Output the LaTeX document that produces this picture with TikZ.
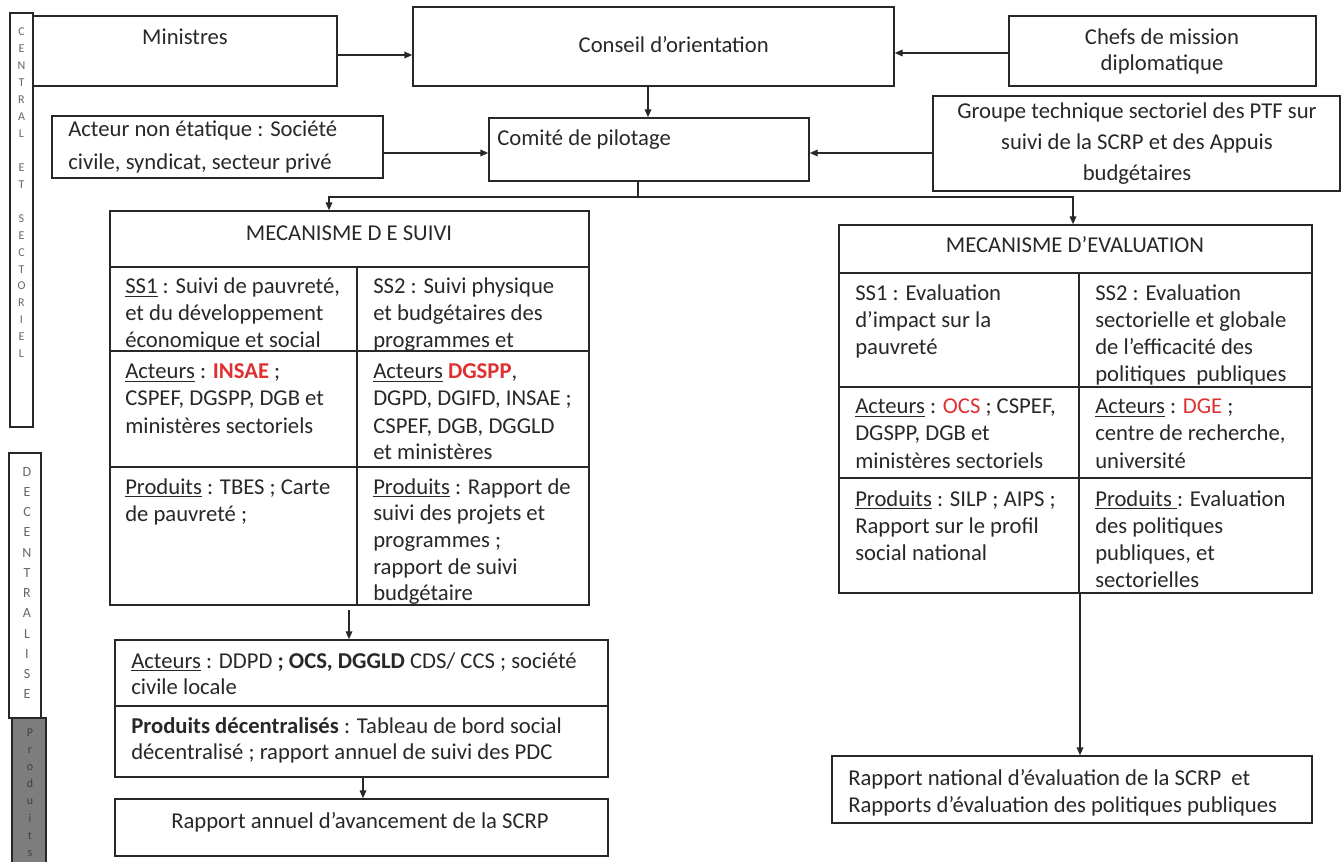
\documentclass[tikz,border=0pt]{standalone}
\usepackage{fontspec}
\setmainfont{Carlito}
\usetikzlibrary{arrows.meta,fit,calc}
\definecolor{redt}{RGB}{222,50,50}
\definecolor{ink}{RGB}{40,40,40}
\definecolor{barg}{RGB}{125,125,125}
\newcommand{\mylines}[1]{\parbox[t]{520pt}{#1}}
\newcommand{\myclines}[2]{\parbox[t]{#1}{\centering #2}}
\begin{document}
\begin{tikzpicture}[x=0.75pt,y=-0.75pt,
  box/.style={draw=ink, line width=1.1pt, inner sep=0pt},
  line/.style={draw=ink, line width=1.1pt},
  arr/.style={draw=ink, line width=1.1pt, -{Triangle[length=6pt,width=5pt]}},
  txt/.style={anchor=base west, inner sep=0pt, text=ink, font=\fontsize{17}{20.25}\selectfont},
  vlet/.style={anchor=base, inner sep=0pt, text=black!60}]
\useasboundingbox (0,0) rectangle (1341,862);
\fill[white] (0,0) rectangle (1341,862);

% ---- left bars
\node[box, fit={(10,13) (33,427)}] (cbar) {};
\node[vlet, font=\fontsize{9}{12.7}\selectfont] (cbarT) at (21.5,36) {\myclines{20pt}{C\\E\\N\\T\\R\\A\\L\\\mbox{}\\E\\T\\\mbox{}\\S\\E\\C\\T\\O\\R\\I\\E\\L}};
\node[box, fit={(9,453) (41,718)}] (dbar) {};
\node[vlet, font=\fontsize{10.5}{15.2}\selectfont] (dbarT) at (27,476) {\myclines{20pt}{D\\E\\C\\E\\N\\T\\R\\A\\L\\I\\S\\E}};
\fill[barg] (12,718) rectangle (46,862);
\draw[line] (12,862) -- (12,718) -- (46,718) -- (46,862);
\node[vlet, text=black!75, font=\fontsize{9}{12.9}\selectfont] (pbarT) at (30,736) {\myclines{20pt}{P\\r\\o\\d\\u\\i\\t\\s}};

% ---- top row
\node[box, fit={(33,16) (337,86)}] (min) {};
\node[txt, anchor=base] (minT) at (185,45) {Ministres};
\node[box, fit={(413,7) (894,86)}] (con) {};
\node[txt, anchor=base east] (conT) at (769,53) {Conseil d’orientation};
\node[box, fit={(1009,16) (1316,86)}] (chef) {};
\node[txt, anchor=base, font=\fontsize{17}{19.5}\selectfont] (chefT) at (1162,45) {\myclines{230pt}{Chefs de mission\\diplomatique}};

% ---- second row
\node[box, fit={(52,116) (383,178)}] (act) {};
\node[txt, font=\fontsize{17}{24.75}\selectfont] (actT) at (68,137) {\mylines{Acteur non étatique : Société\\civile, syndicat, secteur privé}};
\node[box, fit={(489,118) (809,181)}] (com) {};
\node[txt] (comT) at (497,146) {Comité de pilotage};
\node[box, fit={(933,96) (1340,191)}] (grp) {};
\node[txt, anchor=base, font=\fontsize{17}{22.9}\selectfont] (grpT) at (1137,119) {\myclines{300pt}{Groupe technique sectoriel des PTF sur\\suivi de la SCRP et des Appuis\\budgétaires}};

% ---- arrows top
\draw[arr] ($(min.east)+(0,4)$) coordinate (m1) -- (m1 -| con.west);
\draw[arr] ($(chef.west)+(0,2)$) coordinate (c1) -- (c1 -| con.east);
\draw[arr] ($(con.south)+(-5.5,0)$) coordinate (c2) -- (c2 |- com.north);
\draw[arr] ($(act.east)+(0,6)$) coordinate (a1) -- (a1 -| com.west);
\draw[arr] ($(grp.west)+(0,9.5)$) coordinate (g1) -- (g1 -| com.east);

% ---- mecanisme de suivi
\node[box, fit={(110,211) (589,605)}] (sui) {};
\draw[line] (110,267) -- (589,267);
\draw[line] (110,351) -- (589,351);
\draw[line] (110,467) -- (589,467);
\draw[line] (357,267) -- (357,605);
\node[txt, anchor=base] (suiT) at (349,241) {MECANISME D E SUIVI};
\begin{scope}
\clip (110,267) rectangle (357,351);
\node[txt] (s11) at (125,294) {\mylines{\underline{SS1} : Suivi de pauvreté,\\et du développement\\économique et social}};
\end{scope}
\begin{scope}
\clip (357,267) rectangle (589,351);
\node[txt] (s12) at (373,294) {\mylines{SS2 : Suivi physique\\et budgétaires des\\programmes et}};
\end{scope}
\node[txt] (s21) at (125,379) {\mylines{\underline{Acteurs} : \textcolor{redt}{\textbf{INSAE}} ;\\CSPEF, DGSPP, DGB et\\ministères sectoriels}};
\node[txt] (s22) at (373,379) {\mylines{\underline{Acteurs} \textcolor{redt}{\textbf{DGSPP}},\\DGPD, DGIFD, INSAE ;\\CSPEF, DGB, DGGLD\\et ministères}};
\node[txt] (s31) at (125,494) {\mylines{\underline{Produits} : TBES ; Carte\\de pauvreté ;}};
\begin{scope}
\clip (357,467) rectangle (589,605);
\node[txt, font=\fontsize{17}{20}\selectfont] (s32) at (373,494) {\mylines{\underline{Produits} : Rapport de\\suivi des projets et\\programmes ;\\rapport de suivi\\budgétaire}};
\end{scope}

% ---- decentral
\node[box, fit={(115,640) (608,777)}] (dec) {};
\draw[line] (115,706) -- (608,706);
\node[txt, font=\fontsize{17}{19.8}\selectfont] (d1) at (131,668) {\mylines{\underline{Acteurs} : DDPD \textbf{; OCS, DGGLD} CDS/ CCS ; société\\civile locale}};
\node[txt, font=\fontsize{17}{19.8}\selectfont] (d2) at (131,733) {\mylines{\textbf{Produits décentralisés} : Tableau de bord social\\décentralisé ; rapport annuel de suivi des PDC}};
\node[box, fit={(115,799) (608,856)}] (rap) {};
\node[txt, anchor=base] (rapT) at (360,828) {Rapport annuel d’avancement de la SCRP};

\coordinate (s1) at (349,610);
\draw[arr] (s1) -- (s1 |- dec.north);
\draw[arr] ($(dec.south)+(1.5,0)$) coordinate (d0) -- (d0 |- rap.north);

% ---- mecanisme d'evaluation
\node[box, fit={(839,225) (1312,593)}] (eva) {};
\draw[line] (839,273) -- (1312,273);
\draw[line] (839,387) -- (1312,387);
\draw[line] (839,478) -- (1312,478);
\draw[line] (1079,273) -- (1079,593);
\node[txt, anchor=base] (evaT) at (1075,253) {MECANISME D’EVALUATION};
\node[txt] (e11) at (855,301) {\mylines{SS1 : Evaluation\\d’impact sur la\\pauvreté}};
\begin{scope}
\clip (1079,273) rectangle (1312,387);
\node[txt] (e12) at (1095,301) {\mylines{SS2 : Evaluation\\sectorielle et globale\\de l’efficacité des\\politiques\ \ publiques}};
\end{scope}
\node[txt] (e21) at (855,414) {\mylines{\underline{Acteurs} : \textcolor{redt}{OCS} ; CSPEF,\\DGSPP, DGB et\\ministères sectoriels}};
\node[txt] (e22) at (1095,414) {\mylines{\underline{Acteurs} : \textcolor{redt}{DGE} ;\\centre de recherche,\\université}};
\node[txt] (e31) at (855,506) {\mylines{\underline{Produits} : SILP ; AIPS ;\\Rapport sur le profil\\social national}};
\begin{scope}
\clip (1079,478) rectangle (1312,593);
\node[txt] (e32) at (1095,506) {\mylines{\underline{Produits\ }: Evaluation\\des politiques\\publiques, et\\sectorielles}};
\end{scope}

\node[box, fit={(832,756) (1312,823)}] (nat) {};
\node[txt, font=\fontsize{17}{20.6}\selectfont] (natT) at (848,785) {\mylines{Rapport national d’évaluation de la SCRP\ \ et\\Rapports d’évaluation des politiques publiques}};

% ---- branch from comite
\coordinate (br) at (638,197);
\coordinate (bl) at (329,197);
\coordinate (brr) at (1073,197);
\draw[line] (com.south -| br) -- (br);
\draw[arr] (br) -- (bl) -- (bl |- sui.north);
\draw[arr] (br) -- (brr) -- (brr |- eva.north);
\coordinate (e0) at (1080,593);
\draw[arr] (e0) -- (e0 |- nat.north);
\end{tikzpicture}
\end{document}
